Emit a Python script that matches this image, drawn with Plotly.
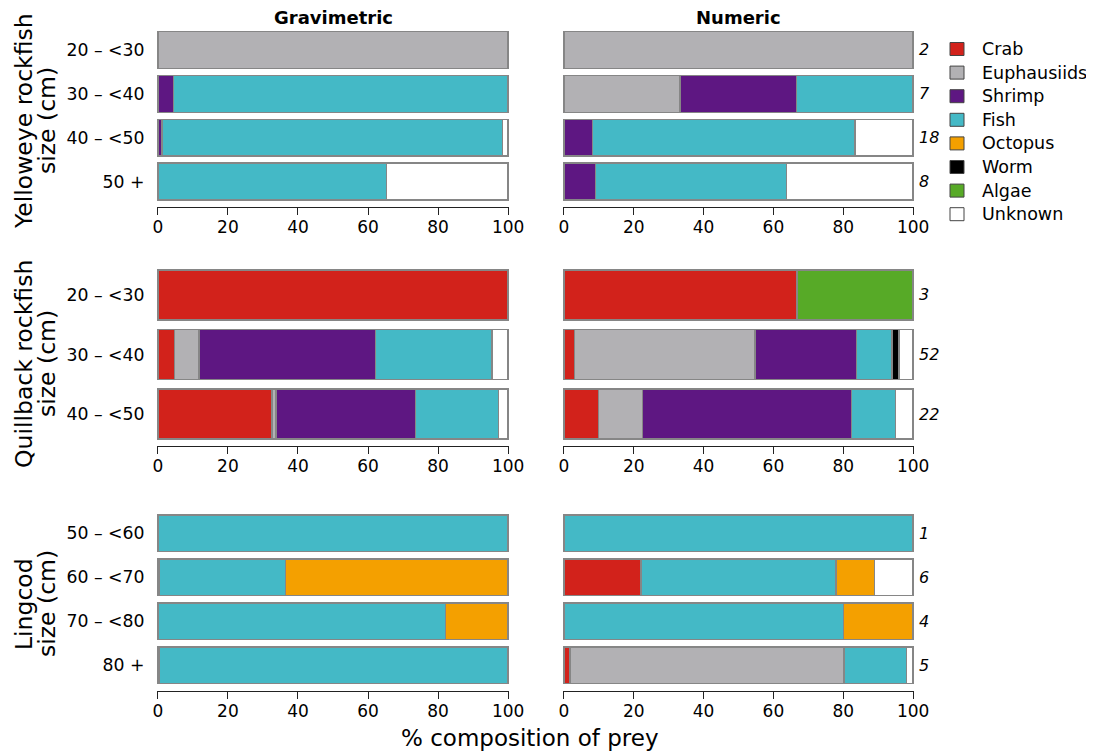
import plotly.graph_objects as go

# ---------------- data ----------------
prey = ["Crab", "Euphausiids", "Shrimp", "Fish", "Octopus", "Worm", "Algae", "Unknown"]
prey_colors = ["#D2221B", "#B2B1B4", "#5E1782", "#44B9C6", "#F4A000", "#000000", "#57AA27", "#FFFFFF"]

ye_sizes = ["20 – <30", "30 – <40", "40 – <50", "50 +"]
qb_sizes = ["20 – <30", "30 – <40", "40 – <50"]
lc_sizes = ["50 – <60", "60 – <70", "70 – <80", "80 +"]

# rows = size classes, columns = prey (same order as `prey`)
ye_grav = [
    [0, 100, 0, 0, 0, 0, 0, 0],
    [0, 0, 4.4, 95.6, 0, 0, 0, 0],
    [0, 0, 1.2, 97.2, 0, 0, 0, 1.6],
    [0, 0, 0, 65.3, 0, 0, 0, 34.7],
]
ye_num = [
    [0, 100, 0, 0, 0, 0, 0, 0],
    [0, 33.3, 33.3, 33.4, 0, 0, 0, 0],
    [0, 0, 8.2, 75.2, 0, 0, 0, 16.6],
    [0, 0, 9.0, 54.8, 0, 0, 0, 36.2],
]
qb_grav = [
    [100, 0, 0, 0, 0, 0, 0, 0],
    [4.8, 6.9, 50.4, 33.3, 0, 0, 0, 4.6],
    [32.6, 1.1, 39.8, 23.7, 0, 0, 0, 2.8],
]
qb_num = [
    [66.7, 0, 0, 0, 0, 0, 33.3, 0],
    [3.0, 51.7, 29.0, 10.2, 0, 2.1, 0, 4.0],
    [9.9, 12.6, 59.9, 12.6, 0, 0, 0, 5.0],
]
lc_grav = [
    [0, 0, 0, 100, 0, 0, 0, 0],
    [0.4, 0, 0, 36.1, 63.5, 0, 0, 0],
    [0, 0, 0, 82.2, 17.8, 0, 0, 0],
    [0.4, 0, 0, 99.6, 0, 0, 0, 0],
]
lc_num = [
    [0, 0, 0, 100, 0, 0, 0, 0],
    [22.1, 0, 0, 55.8, 11.1, 0, 0, 11.0],
    [0, 0, 0, 80.0, 20.0, 0, 0, 0],
    [1.7, 78.5, 0, 17.9, 0, 0, 0, 1.9],
]

ye_n = [2, 7, 18, 8]
qb_n = [3, 52, 22]
lc_n = [1, 6, 4, 5]

species_line1 = ["Yelloweye rockfish", "Quillback rockfish", "Lingcod"]
species_line2 = ["size (cm)", "size (cm)", "size (cm)"]
column_titles = ["Gravimetric", "Numeric"]
x_ticks = [0, 20, 40, 60, 80, 100]

# ---------------- layout geometry ----------------
OFF = 8                      # page body margin of the html page
W, H = 1094 - OFF, 755 - OFF
ML = 157 - OFF
MR = W - (914 - OFF)
PW = W - ML - MR

def px_x(p):                 # screen pixel -> paper x
    return (p - OFF - ML) / PW

def px_y(p):                 # screen pixel -> paper y
    return 1 - (p - OFF) / H

FONT = "DejaVu Sans, Verdana, sans-serif"

rows = [
    dict(sizes=ye_sizes, data=(ye_grav, ye_num), n=ye_n, top=28, bot=206.5, rng=[3.57, -0.5], title_y=121),
    dict(sizes=qb_sizes, data=(qb_grav, qb_num), n=qb_n, top=265.2, bot=445.7, rng=[2.53, -0.5], title_y=364),
    dict(sizes=lc_sizes, data=(lc_grav, lc_num), n=lc_n, top=511.3, bot=690.7, rng=[3.577, -0.5], title_y=604),
]
x_domains = [[0, px_x(509)], [px_x(563), 1]]

fig = go.Figure()
layout = dict(
    width=W, height=H,
    margin=dict(l=ML, r=MR, t=0, b=0, autoexpand=False),
    paper_bgcolor="white", plot_bgcolor="white",
    barmode="stack", bargap=0.16,
    font=dict(family=FONT, size=17, color="black"),
    showlegend=False,
)
annotations = []
shapes = []

k = 0
for r, row in enumerate(rows):
    for c in range(2):
        k += 1
        xa = "xaxis" if k == 1 else f"xaxis{k}"
        ya = "yaxis" if k == 1 else f"yaxis{k}"
        xr = "x" if k == 1 else f"x{k}"
        yr = "y" if k == 1 else f"y{k}"
        mat = row["data"][c]
        for j, name in enumerate(prey):
            vals = [mat[i][j] if mat[i][j] > 0 else None for i in range(len(row["sizes"]))]
            fig.add_trace(go.Bar(
                x=vals, y=row["sizes"], orientation="h", name=name,
                marker=dict(color=prey_colors[j], line=dict(color="#868686", width=1.4)),
                xaxis=xr, yaxis=yr,
                hovertemplate=f"{name}: %{{x}}%<extra></extra>",
            ))
        layout[xa] = dict(
            domain=x_domains[c], anchor=yr, range=[-0.25, 100.25],
            tickmode="array", tickvals=x_ticks, ticks="outside", ticklen=7,
            tickwidth=1.2, tickcolor="#222", showline=True, linecolor="#222", linewidth=1.2,
            showgrid=False, zeroline=False, tickfont=dict(size=17), fixedrange=True,
            ticklabelstandoff=-2,
        )
        layout[ya] = dict(
            domain=[px_y(row["bot"]), px_y(row["top"])], anchor=xr,
            type="category", categoryorder="array", categoryarray=row["sizes"],
            range=row["rng"], showgrid=False, zeroline=False, showline=False,
            ticks="outside", ticklen=8, tickcolor="rgba(0,0,0,0)",
            showticklabels=(c == 0), tickfont=dict(size=17.3), fixedrange=True,
        )
        if c == 1:
            for i, s in enumerate(row["sizes"]):
                annotations.append(dict(
                    x=1.004, xref="paper", y=s, yref=yr, xanchor="left", yanchor="middle",
                    text=f"<i>{row['n'][i]}</i>", showarrow=False, font=dict(size=16),
                ))
    annotations.append(dict(
        x=px_x(24), xref="paper", y=px_y(row["title_y"]), yref="paper",
        text=species_line1[r], textangle=-90, showarrow=False,
        xanchor="center", yanchor="middle", font=dict(size=23.5),
    ))
    annotations.append(dict(
        x=px_x(47), xref="paper", y=px_y(row["title_y"]), yref="paper",
        text=species_line2[r], textangle=-90, showarrow=False,
        xanchor="center", yanchor="middle", font=dict(size=23.5),
    ))

for c, t in enumerate(column_titles):
    annotations.append(dict(
        x=sum(x_domains[c]) / 2, xref="paper", y=px_y(17), yref="paper",
        text=f"<b>{t}</b>", showarrow=False, xanchor="center", yanchor="middle",
        font=dict(size=18),
    ))

annotations.append(dict(
    x=px_x(530), xref="paper", y=px_y(738), yref="paper",
    text="% composition of prey", showarrow=False, xanchor="center", yanchor="middle",
    font=dict(size=23),
))

# legend (drawn manually to match spacing)
leg_y0, leg_dy = 49, 23.6
for j, name in enumerate(prey):
    cy = leg_y0 + j * leg_dy
    shapes.append(dict(
        type="rect", xref="paper", yref="paper",
        x0=px_x(950), x1=px_x(964), y0=px_y(cy + 6.5), y1=px_y(cy - 6.5),
        fillcolor=prey_colors[j], line=dict(color="#444", width=1),
    ))
    annotations.append(dict(
        x=px_x(980), xref="paper", y=px_y(cy), yref="paper",
        text=name, showarrow=False, xanchor="left", yanchor="middle",
        font=dict(size=17.5),
    ))

layout["annotations"] = annotations
layout["shapes"] = shapes
fig.update_layout(**layout)
fig.write_html("out.html")
